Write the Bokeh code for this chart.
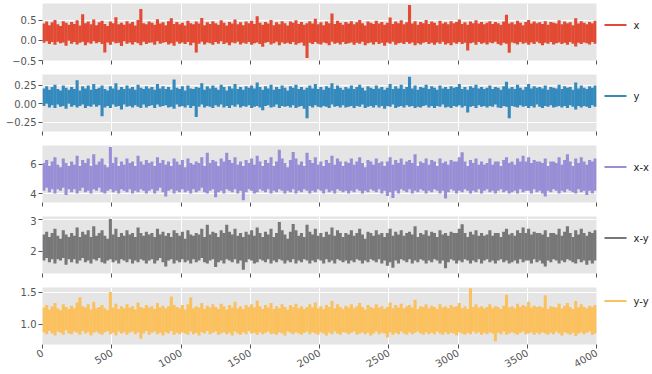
import math
from bokeh.plotting import figure
from bokeh.layouts import column, row
from bokeh.models import Range1d, FixedTicker
from bokeh.core.properties import value
from bokeh.embed import file_html
from bokeh.resources import INLINE

# 4000 samples per series, shown as the low / high of each 20-sample bin
bin_x = list(range(10, 4000, 20))

x_hi = [
    0.42, 0.47, 0.38, 0.45, 0.51, 0.40, 0.36, 0.48, 0.44, 0.39,
    0.46, 0.41, 0.50, 0.37, 0.65, 0.43, 0.47, 0.40, 0.52, 0.38,
    0.45, 0.49, 0.41, 0.36, 0.47, 0.43, 0.58, 0.40, 0.44, 0.39,
    0.48, 0.42, 0.46, 0.37, 0.51, 0.78, 0.43, 0.40, 0.47, 0.44,
    0.39, 0.53, 0.42, 0.45, 0.38, 0.48, 0.55, 0.41, 0.46, 0.40,
    0.44, 0.37, 0.49, 0.43, 0.40, 0.47, 0.42, 0.56, 0.38, 0.45,
    0.41, 0.48, 0.43, 0.39, 0.50, 0.44, 0.37, 0.46, 0.42, 0.52,
    0.40, 0.45, 0.38, 0.47, 0.43, 0.49, 0.41, 0.60, 0.44, 0.39,
    0.46, 0.42, 0.51, 0.38, 0.45, 0.40, 0.48, 0.43, 0.37, 0.47,
    0.44, 0.50, 0.41, 0.46, 0.39, 0.43, 0.48, 0.42, 0.54, 0.40,
    0.45, 0.38, 0.47, 0.43, 0.67, 0.41, 0.49, 0.44, 0.39, 0.46,
    0.42, 0.48, 0.40, 0.45, 0.51, 0.43, 0.37, 0.47, 0.44, 0.41,
    0.49, 0.42, 0.46, 0.39, 0.44, 0.57, 0.41, 0.47, 0.43, 0.50,
    0.40, 0.45, 0.88, 0.42, 0.48, 0.39, 0.46, 0.43, 0.51, 0.41,
    0.47, 0.44, 0.38, 0.49, 0.42, 0.45, 0.40, 0.48, 0.43, 0.46,
    0.52, 0.41, 0.45, 0.39, 0.47, 0.43, 0.50, 0.42, 0.46, 0.40,
    0.44, 0.48, 0.41, 0.46, 0.43, 0.39, 0.47, 0.64, 0.42, 0.45,
    0.40, 0.49, 0.44, 0.38, 0.46, 0.51, 0.42, 0.47, 0.43, 0.45,
    0.41, 0.48, 0.39, 0.46, 0.44, 0.42, 0.50, 0.40, 0.47, 0.43,
    0.45, 0.38, 0.55, 0.42, 0.48, 0.44, 0.40, 0.46, 0.43, 0.49,
]
x_lo = [
    -0.06, -0.02, -0.09, -0.04, -0.11, -0.03, -0.07, -0.05, -0.13, -0.01,
    -0.08, -0.04, -0.10, -0.06, -0.03, -0.12, -0.05, -0.08, -0.02, -0.07,
    -0.04, -0.09, -0.30, -0.05, -0.11, -0.03, -0.07, -0.06, -0.14, -0.02,
    -0.08, -0.05, -0.10, -0.04, -0.07, -0.12, -0.03, -0.09, -0.06, -0.05,
    -0.11, -0.02, -0.08, -0.06, -0.04, -0.10, -0.07, -0.13, -0.03, -0.08,
    -0.05, -0.09, -0.04, -0.12, -0.06, -0.30, -0.08, -0.03, -0.10, -0.05,
    -0.07, -0.11, -0.04, -0.08, -0.02, -0.09, -0.06, -0.12, -0.05, -0.07,
    -0.03, -0.10, -0.06, -0.08, -0.04, -0.11, -0.07, -0.05, -0.09, -0.16,
    -0.06, -0.04, -0.10, -0.07, -0.03, -0.12, -0.05, -0.08, -0.06, -0.09,
    -0.04, -0.11, -0.07, -0.05, -0.13, -0.44, -0.06, -0.09, -0.04, -0.08,
    -0.10, -0.05, -0.07, -0.12, -0.03, -0.08, -0.06, -0.10, -0.04, -0.09,
    -0.07, -0.05, -0.11, -0.06, -0.08, -0.03, -0.12, -0.07, -0.05, -0.10,
    -0.04, -0.09, -0.06, -0.13, -0.05, -0.08, -0.03, -0.11, -0.07, -0.06,
    -0.09, -0.04, -0.08, -0.05, -0.12, -0.07, -0.10, -0.06, -0.04, -0.09,
    -0.06, -0.11, -0.05, -0.08, -0.03, -0.10, -0.07, -0.12, -0.05, -0.08,
    -0.04, -0.09, -0.06, -0.25, -0.07, -0.05, -0.11, -0.04, -0.08, -0.06,
    -0.10, -0.05, -0.07, -0.03, -0.09, -0.12, -0.06, -0.08, -0.31, -0.05,
    -0.07, -0.10, -0.04, -0.08, -0.06, -0.11, -0.05, -0.09, -0.03, -0.07,
    -0.12, -0.06, -0.08, -0.04, -0.10, -0.07, -0.05, -0.09, -0.06, -0.11,
    -0.04, -0.08, -0.15, -0.06, -0.09, -0.05, -0.07, -0.10, -0.04, -0.08,
]

y_hi = [
    0.21, 0.24, 0.19, 0.23, 0.26, 0.20, 0.18, 0.25, 0.22, 0.19,
    0.23, 0.20, 0.32, 0.18, 0.24, 0.21, 0.25, 0.19, 0.27, 0.20,
    0.22, 0.25, 0.20, 0.18, 0.24, 0.21, 0.28, 0.19, 0.23, 0.20,
    0.25, 0.21, 0.23, 0.19, 0.26, 0.22, 0.20, 0.24, 0.21, 0.23,
    0.19, 0.27, 0.21, 0.24, 0.20, 0.23, 0.19, 0.33, 0.22, 0.20,
    0.24, 0.18, 0.25, 0.21, 0.20, 0.23, 0.22, 0.28, 0.19, 0.24,
    0.21, 0.25, 0.22, 0.19, 0.26, 0.23, 0.18, 0.24, 0.21, 0.27,
    0.20, 0.23, 0.19, 0.24, 0.22, 0.25, 0.21, 0.29, 0.23, 0.19,
    0.24, 0.21, 0.26, 0.19, 0.23, 0.20, 0.25, 0.22, 0.18, 0.24,
    0.22, 0.26, 0.20, 0.23, 0.19, 0.22, 0.25, 0.21, 0.27, 0.20,
    0.23, 0.19, 0.24, 0.22, 0.28, 0.20, 0.25, 0.22, 0.19, 0.23,
    0.21, 0.25, 0.20, 0.23, 0.26, 0.22, 0.18, 0.24, 0.22, 0.20,
    0.25, 0.21, 0.23, 0.19, 0.22, 0.27, 0.20, 0.24, 0.21, 0.26,
    0.20, 0.23, 0.37, 0.21, 0.25, 0.19, 0.23, 0.22, 0.26, 0.20,
    0.24, 0.22, 0.19, 0.25, 0.21, 0.23, 0.20, 0.24, 0.22, 0.23,
    0.27, 0.20, 0.23, 0.19, 0.24, 0.22, 0.26, 0.21, 0.23, 0.20,
    0.22, 0.25, 0.20, 0.23, 0.22, 0.19, 0.24, 0.30, 0.21, 0.23,
    0.20, 0.26, 0.22, 0.19, 0.23, 0.27, 0.21, 0.24, 0.22, 0.23,
    0.21, 0.25, 0.19, 0.23, 0.22, 0.21, 0.26, 0.20, 0.24, 0.22,
    0.23, 0.19, 0.29, 0.21, 0.25, 0.22, 0.20, 0.24, 0.22, 0.25,
]
y_lo = [
    -0.03, 0.00, -0.05, -0.02, -0.06, -0.01, -0.04, -0.03, -0.07, 0.00,
    -0.04, -0.02, -0.05, -0.03, -0.01, -0.06, -0.03, -0.04, -0.01, -0.04,
    -0.02, -0.17, -0.05, -0.03, -0.06, -0.01, -0.04, -0.03, -0.08, -0.01,
    -0.04, -0.03, -0.05, -0.02, -0.04, -0.06, -0.01, -0.05, -0.03, -0.02,
    -0.06, -0.01, -0.04, -0.03, -0.02, -0.05, -0.04, -0.07, -0.01, -0.04,
    -0.03, -0.05, -0.02, -0.06, -0.03, -0.18, -0.04, -0.01, -0.05, -0.03,
    -0.04, -0.06, -0.02, -0.04, -0.01, -0.05, -0.03, -0.06, -0.02, -0.04,
    -0.01, -0.05, -0.03, -0.04, -0.02, -0.06, -0.04, -0.03, -0.05, -0.09,
    -0.03, -0.02, -0.05, -0.04, -0.01, -0.06, -0.03, -0.04, -0.03, -0.05,
    -0.02, -0.06, -0.04, -0.03, -0.07, -0.20, -0.03, -0.05, -0.02, -0.04,
    -0.05, -0.03, -0.04, -0.06, -0.01, -0.04, -0.03, -0.05, -0.02, -0.05,
    -0.04, -0.03, -0.06, -0.03, -0.04, -0.01, -0.06, -0.04, -0.03, -0.05,
    -0.02, -0.05, -0.03, -0.07, -0.03, -0.04, -0.01, -0.06, -0.04, -0.03,
    -0.05, -0.02, -0.04, -0.03, -0.06, -0.04, -0.05, -0.03, -0.02, -0.05,
    -0.03, -0.06, -0.03, -0.04, -0.01, -0.05, -0.04, -0.06, -0.03, -0.04,
    -0.02, -0.05, -0.03, -0.12, -0.04, -0.03, -0.06, -0.02, -0.04, -0.03,
    -0.05, -0.03, -0.04, -0.01, -0.05, -0.06, -0.03, -0.04, -0.20, -0.03,
    -0.04, -0.05, -0.02, -0.04, -0.03, -0.06, -0.03, -0.05, -0.01, -0.04,
    -0.06, -0.03, -0.04, -0.02, -0.05, -0.04, -0.03, -0.05, -0.03, -0.06,
    -0.02, -0.04, -0.08, -0.03, -0.05, -0.03, -0.04, -0.06, -0.02, -0.04,
]

xx_hi = [
    6.1, 6.3, 5.9, 6.2, 6.5, 6.0, 5.8, 6.4, 6.1, 5.9,
    6.2, 6.0, 6.6, 5.9, 6.3, 6.1, 6.4, 5.9, 6.7, 6.0,
    6.2, 6.4, 6.0, 5.8, 7.2, 6.1, 6.5, 5.9, 6.2, 6.0,
    6.4, 6.1, 6.2, 5.9, 6.6, 6.2, 6.0, 6.3, 6.1, 6.2,
    5.9, 6.5, 6.1, 6.3, 6.0, 6.2, 5.9, 6.4, 6.2, 6.0,
    6.3, 5.8, 6.4, 6.1, 6.0, 6.2, 6.1, 6.5, 5.9, 6.8,
    6.1, 6.3, 6.2, 5.9, 6.4, 6.2, 6.8, 6.3, 6.1, 6.5,
    6.0, 6.2, 5.9, 6.3, 6.1, 6.4, 6.0, 6.6, 6.2, 5.9,
    6.3, 6.1, 6.5, 5.9, 6.2, 7.0, 6.4, 6.1, 5.8, 6.3,
    6.85, 6.4, 6.0, 6.2, 5.9, 6.8, 6.3, 6.1, 6.5, 6.0,
    6.2, 5.9, 6.3, 6.1, 6.6, 6.0, 6.4, 6.2, 5.9, 6.2,
    6.1, 6.4, 6.0, 6.2, 6.5, 6.1, 5.8, 6.3, 6.2, 6.0,
    6.4, 6.1, 6.2, 5.9, 6.2, 6.5, 6.0, 6.3, 6.1, 6.4,
    6.0, 6.2, 6.3, 6.1, 6.7, 5.9, 6.2, 6.1, 6.4, 6.0,
    6.3, 6.2, 5.9, 6.4, 6.1, 6.2, 6.0, 6.3, 6.2, 6.2,
    6.5, 6.84, 6.2, 5.9, 6.3, 6.1, 6.4, 6.0, 6.2, 6.0,
    6.1, 6.4, 6.0, 6.2, 6.2, 5.9, 6.3, 6.5, 6.1, 6.2,
    6.0, 6.4, 6.2, 6.6, 6.2, 6.5, 6.1, 6.3, 6.2, 6.2,
    6.1, 6.4, 5.9, 6.2, 6.2, 6.1, 6.5, 6.0, 6.3, 6.7,
    6.2, 5.9, 6.4, 6.1, 6.5, 6.2, 6.0, 6.3, 6.2, 6.4,
]
xx_lo = [
    4.2, 4.4, 4.1, 4.3, 4.0, 4.3, 4.2, 4.4, 3.9, 4.3,
    4.1, 4.3, 4.0, 4.2, 4.4, 4.1, 4.2, 4.0, 4.3, 4.2,
    4.4, 4.1, 4.0, 4.2, 4.3, 4.1, 4.2, 4.0, 4.3, 4.2,
    4.1, 4.3, 4.0, 4.2, 4.1, 4.3, 4.2, 4.0, 4.2, 4.3,
    4.0, 4.2, 4.4, 4.1, 3.8, 4.2, 4.3, 4.0, 4.2, 4.1,
    4.3, 4.1, 4.2, 4.0, 4.3, 4.1, 4.2, 4.4, 4.1, 4.0,
    4.2, 4.3, 3.75, 4.1, 4.2, 4.0, 4.3, 4.2, 4.1, 4.3,
    4.0, 4.2, 3.55, 4.1, 4.3, 4.2, 4.0, 4.1, 4.3, 4.2,
    4.1, 4.3, 4.0, 4.2, 4.1, 4.3, 4.2, 4.0, 4.2, 4.1,
    4.3, 4.0, 4.2, 4.1, 4.3, 4.2, 4.0, 4.2, 4.1, 4.3,
    4.2, 4.0, 4.3, 4.1, 4.2, 4.0, 4.3, 4.2, 4.1, 4.2,
    4.0, 4.2, 4.1, 4.3, 4.2, 4.0, 4.2, 4.1, 4.3, 4.2,
    4.1, 4.3, 4.0, 4.2, 3.84, 4.1, 3.7, 4.2, 4.0, 4.3,
    4.2, 4.1, 4.3, 4.0, 4.2, 4.1, 4.3, 4.2, 4.0, 4.2,
    4.1, 4.3, 4.2, 4.0, 4.2, 3.66, 4.1, 4.3, 4.2, 4.0,
    4.2, 4.1, 4.3, 4.2, 4.0, 4.2, 4.1, 4.3, 4.0, 4.2,
    4.3, 4.1, 4.2, 4.0, 4.2, 4.3, 4.1, 4.2, 4.0, 4.1,
    4.2, 4.0, 4.3, 4.1, 4.2, 4.2, 4.0, 4.3, 4.1, 4.2,
    4.0, 3.8, 4.2, 4.1, 4.3, 4.2, 4.0, 4.2, 4.1, 4.3,
    4.2, 4.1, 4.0, 4.3, 4.1, 4.2, 3.9, 4.2, 4.0, 4.2,
]

xy_hi = [
    2.52, 2.61, 2.44, 2.57, 2.70, 2.48, 2.39, 2.65, 2.52, 2.44,
    2.57, 2.48, 2.74, 2.44, 2.61, 2.52, 2.65, 2.44, 2.78, 2.48,
    2.57, 2.65, 2.48, 2.39, 3.00, 2.52, 2.70, 2.44, 2.57, 2.48,
    2.65, 2.52, 2.57, 2.44, 2.74, 2.57, 2.48, 2.61, 2.52, 2.57,
    2.44, 2.70, 2.52, 2.61, 2.48, 2.57, 2.44, 2.65, 2.57, 2.48,
    2.61, 2.39, 2.65, 2.52, 2.48, 2.57, 2.52, 2.70, 2.44, 2.82,
    2.52, 2.61, 2.57, 2.44, 2.65, 2.57, 2.82, 2.61, 2.52, 2.70,
    2.48, 2.57, 2.44, 2.61, 2.52, 2.65, 2.48, 2.74, 2.57, 2.44,
    2.61, 2.52, 2.70, 2.44, 2.57, 2.91, 2.65, 2.52, 2.39, 2.61,
    2.85, 2.65, 2.48, 2.57, 2.44, 2.82, 2.61, 2.52, 2.70, 2.48,
    2.57, 2.44, 2.61, 2.52, 2.74, 2.48, 2.65, 2.57, 2.44, 2.57,
    2.52, 2.65, 2.48, 2.57, 2.70, 2.52, 2.39, 2.61, 2.57, 2.48,
    2.65, 2.52, 2.57, 2.44, 2.57, 2.70, 2.48, 2.61, 2.52, 2.65,
    2.48, 2.57, 2.61, 2.52, 2.78, 2.44, 2.57, 2.52, 2.65, 2.48,
    2.61, 2.57, 2.44, 2.65, 2.52, 2.57, 2.48, 2.61, 2.57, 2.57,
    2.70, 2.84, 2.57, 2.44, 2.61, 2.52, 2.65, 2.48, 2.57, 2.48,
    2.52, 2.65, 2.48, 2.57, 2.57, 2.44, 2.61, 2.70, 2.52, 2.57,
    2.48, 2.65, 2.57, 2.74, 2.57, 2.70, 2.52, 2.61, 2.57, 2.57,
    2.52, 2.65, 2.44, 2.57, 2.57, 2.52, 2.70, 2.48, 2.61, 2.78,
    2.57, 2.44, 2.65, 2.52, 2.70, 2.57, 2.48, 2.61, 2.57, 2.65,
]
xy_lo = [
    1.71, 1.79, 1.66, 1.75, 1.62, 1.75, 1.71, 1.79, 1.58, 1.75,
    1.66, 1.75, 1.62, 1.71, 1.79, 1.66, 1.71, 1.62, 1.75, 1.71,
    1.79, 1.66, 1.62, 1.71, 1.75, 1.66, 1.71, 1.62, 1.75, 1.71,
    1.66, 1.75, 1.62, 1.71, 1.66, 1.75, 1.71, 1.62, 1.71, 1.75,
    1.62, 1.71, 1.79, 1.66, 1.53, 1.71, 1.75, 1.62, 1.71, 1.66,
    1.75, 1.66, 1.71, 1.62, 1.75, 1.66, 1.71, 1.79, 1.66, 1.62,
    1.71, 1.75, 1.51, 1.66, 1.71, 1.62, 1.75, 1.71, 1.66, 1.75,
    1.62, 1.71, 1.43, 1.66, 1.75, 1.71, 1.62, 1.66, 1.75, 1.71,
    1.66, 1.75, 1.62, 1.71, 1.66, 1.75, 1.71, 1.62, 1.71, 1.66,
    1.75, 1.62, 1.71, 1.66, 1.75, 1.71, 1.62, 1.71, 1.66, 1.75,
    1.71, 1.62, 1.75, 1.66, 1.71, 1.62, 1.75, 1.71, 1.66, 1.71,
    1.62, 1.71, 1.66, 1.75, 1.71, 1.62, 1.71, 1.66, 1.75, 1.71,
    1.66, 1.75, 1.62, 1.71, 1.55, 1.66, 1.49, 1.71, 1.62, 1.75,
    1.71, 1.66, 1.75, 1.62, 1.71, 1.66, 1.75, 1.71, 1.62, 1.71,
    1.66, 1.75, 1.71, 1.62, 1.71, 1.47, 1.66, 1.75, 1.71, 1.62,
    1.71, 1.66, 1.75, 1.71, 1.62, 1.71, 1.66, 1.75, 1.62, 1.71,
    1.75, 1.66, 1.71, 1.62, 1.71, 1.75, 1.66, 1.71, 1.62, 1.66,
    1.71, 1.62, 1.75, 1.66, 1.71, 1.71, 1.62, 1.75, 1.66, 1.71,
    1.62, 1.53, 1.71, 1.66, 1.75, 1.71, 1.62, 1.71, 1.66, 1.75,
    1.71, 1.66, 1.62, 1.75, 1.66, 1.71, 1.58, 1.71, 1.62, 1.71,
]

yy_hi = [
    1.26, 1.30, 1.23, 1.28, 1.33, 1.25, 1.22, 1.31, 1.27, 1.24,
    1.29, 1.25, 1.34, 1.42, 1.28, 1.26, 1.31, 1.23, 1.35, 1.25,
    1.27, 1.30, 1.25, 1.22, 1.50, 1.26, 1.32, 1.24, 1.28, 1.25,
    1.31, 1.26, 1.28, 1.23, 1.34, 1.27, 1.25, 1.30, 1.26, 1.28,
    1.24, 1.33, 1.26, 1.29, 1.25, 1.28, 1.43, 1.30, 1.27, 1.25,
    1.30, 1.23, 1.31, 1.42, 1.25, 1.28, 1.26, 1.33, 1.24, 1.29,
    1.26, 1.31, 1.27, 1.24, 1.32, 1.28, 1.23, 1.30, 1.26, 1.35,
    1.25, 1.28, 1.24, 1.30, 1.27, 1.31, 1.26, 1.37, 1.28, 1.24,
    1.30, 1.26, 1.33, 1.24, 1.28, 1.25, 1.31, 1.27, 1.23, 1.30,
    1.27, 1.32, 1.25, 1.28, 1.24, 1.27, 1.31, 1.26, 1.34, 1.25,
    1.28, 1.24, 1.30, 1.27, 1.36, 1.25, 1.31, 1.27, 1.24, 1.29,
    1.26, 1.31, 1.25, 1.28, 1.33, 1.27, 1.23, 1.30, 1.27, 1.25,
    1.31, 1.26, 1.28, 1.24, 1.27, 1.34, 1.25, 1.30, 1.26, 1.32,
    1.25, 1.28, 1.30, 1.26, 1.38, 1.24, 1.28, 1.27, 1.31, 1.25,
    1.29, 1.27, 1.24, 1.31, 1.26, 1.28, 1.25, 1.30, 1.27, 1.28,
    1.33, 1.25, 1.28, 1.24, 1.56, 1.27, 1.31, 1.26, 1.28, 1.25,
    1.27, 1.31, 1.25, 1.28, 1.27, 1.24, 1.29, 1.46, 1.26, 1.28,
    1.25, 1.32, 1.27, 1.30, 1.28, 1.35, 1.26, 1.29, 1.27, 1.28,
    1.26, 1.45, 1.24, 1.28, 1.27, 1.26, 1.32, 1.25, 1.29, 1.33,
    1.27, 1.24, 1.36, 1.26, 1.31, 1.27, 1.25, 1.29, 1.27, 1.30,
]
yy_lo = [
    0.88, 0.85, 0.90, 0.86, 0.83, 0.89, 0.87, 0.84, 0.91, 0.86,
    0.85, 0.89, 0.87, 0.84, 0.90, 0.86, 0.88, 0.83, 0.87, 0.89,
    0.86, 0.84, 0.88, 0.90, 0.85, 0.87, 0.83, 0.89, 0.86, 0.88,
    0.84, 0.87, 0.89, 0.85, 0.88, 0.78, 0.86, 0.90, 0.84, 0.87,
    0.89, 0.85, 0.87, 0.83, 0.88, 0.86, 0.90, 0.84, 0.87, 0.85,
    0.88, 0.86, 0.84, 0.89, 0.85, 0.87, 0.83, 0.88, 0.86, 0.90,
    0.85, 0.87, 0.89, 0.84, 0.86, 0.88, 0.85, 0.87, 0.83, 0.89,
    0.86, 0.84, 0.88, 0.85, 0.90, 0.86, 0.87, 0.84, 0.88, 0.85,
    0.87, 0.89, 0.85, 0.86, 0.84, 0.88, 0.86, 0.83, 0.89, 0.87,
    0.85, 0.88, 0.86, 0.84, 0.87, 0.89, 0.85, 0.88, 0.86, 0.84,
    0.88, 0.86, 0.83, 0.87, 0.85, 0.89, 0.86, 0.84, 0.88, 0.87,
    0.85, 0.87, 0.89, 0.84, 0.86, 0.88, 0.85, 0.87, 0.83, 0.86,
    0.89, 0.85, 0.87, 0.86, 0.80, 0.88, 0.84, 0.87, 0.85, 0.89,
    0.86, 0.84, 0.88, 0.85, 0.87, 0.89, 0.86, 0.84, 0.88, 0.85,
    0.87, 0.85, 0.89, 0.86, 0.84, 0.88, 0.85, 0.87, 0.86, 0.83,
    0.88, 0.86, 0.84, 0.87, 0.85, 0.89, 0.86, 0.88, 0.84, 0.87,
    0.85, 0.88, 0.86, 0.74, 0.87, 0.85, 0.89, 0.84, 0.86, 0.88,
    0.86, 0.84, 0.87, 0.89, 0.85, 0.86, 0.88, 0.84, 0.87, 0.85,
    0.88, 0.86, 0.84, 0.87, 0.85, 0.89, 0.86, 0.83, 0.88, 0.86,
    0.84, 0.87, 0.82, 0.86, 0.88, 0.85, 0.87, 0.89, 0.84, 0.86,
]

series_names = ["x", "y", "x-x", "x-y", "y-y"]
series_hi = [x_hi, y_hi, xx_hi, xy_hi, yy_hi]
series_lo = [x_lo, y_lo, xx_lo, xy_lo, yy_lo]
series_colors = ["#E24A33", "#348ABD", "#988ED5", "#777777", "#FBC15E"]
y_limits = [(-0.5, 0.92), (-0.38, 0.40), (3.39, 7.3), (1.31, 3.08), (0.69, 1.57)]
y_ticks = [[-0.5, 0.0, 0.5], [-0.25, 0.0, 0.25], [4, 6], [2, 3], [1.0, 1.5]]
y_tick_labels = [["\u22120.5", "0.0", "0.5"], ["\u22120.25", "0.00", "0.25"],
                 ["4", "6"], ["2", "3"], ["1.0", "1.5"]]
x_ticks = [0, 500, 1000, 1500, 2000, 2500, 3000, 3500, 4000]

FONT = "DejaVu Sans"
TICK_COLOR = "#555555"
FRAME_W = 554
FRAME_H = 57
GAP = 14
TOP = 3
LEFT = 42
RIGHT = 6
LEG_W = 48

x_range = Range1d(0, 4000)
rows = []
n = len(series_names)
for i in range(n):
    last = i == n - 1
    top = TOP if i == 0 else 0
    lo, hi = y_limits[i]
    p = figure(x_range=x_range, y_range=Range1d(lo, hi),
               frame_width=FRAME_W, frame_height=FRAME_H,
               output_backend="svg", toolbar_location=None,
               min_border_left=LEFT, min_border_right=RIGHT, min_border_top=top,
               min_border_bottom=(0 if last else GAP),
               background_fill_color="#E5E5E5", border_fill_color="white",
               outline_line_color=None)
    p.segment(x0=bin_x, y0=series_lo[i], x1=bin_x, y1=series_hi[i],
              line_color=series_colors[i], line_width=3.1, line_cap="butt")

    for ax in (p.xaxis[0], p.yaxis[0]):
        ax.axis_line_color = None
        ax.major_tick_line_color = TICK_COLOR
        ax.major_tick_out = 4
        ax.major_tick_in = 0
        ax.minor_tick_line_color = None
        ax.major_label_text_font = FONT
        ax.major_label_text_font_size = "10px"
        ax.major_label_text_color = TICK_COLOR

    p.xaxis.ticker = FixedTicker(ticks=x_ticks)
    p.xgrid.ticker = FixedTicker(ticks=x_ticks)
    p.yaxis.ticker = FixedTicker(ticks=y_ticks[i])
    p.ygrid.ticker = FixedTicker(ticks=y_ticks[i])
    p.yaxis.major_label_overrides = {t: lab for t, lab in zip(y_ticks[i], y_tick_labels[i])}
    p.yaxis.major_label_standoff = 2
    p.grid.grid_line_color = "white"
    p.grid.grid_line_width = 1

    if last:
        p.xaxis.major_label_orientation = math.pi / 6
        p.xaxis.major_label_standoff = 3
    else:
        p.xaxis.major_label_overrides = {t: "" for t in x_ticks}
        p.xaxis.major_label_text_font_size = "0px"
        p.xaxis.major_label_standoff = 0

    # legend entry, drawn in its own small panel right of the plot
    lp = figure(width=LEG_W, height=FRAME_H + top, x_range=Range1d(0, LEG_W),
                y_range=Range1d(-1, 1), output_backend="svg", toolbar_location=None,
                min_border=0, min_border_top=top, outline_line_color=None,
                background_fill_color="white", border_fill_color="white")
    lp.axis.visible = False
    lp.grid.visible = False
    lp.line(x=[2, 24], y=[0, 0], line_color=series_colors[i], line_width=2)
    lp.text(x=[31], y=[0], text=[series_names[i]], text_baseline="middle",
            text_align="left", text_font=value(FONT), text_font_size="10px",
            text_color="#222222")
    rows.append(row(p, lp, spacing=0))

layout = column(*rows, spacing=0)
open("out.html", "w").write(file_html(layout, INLINE))
